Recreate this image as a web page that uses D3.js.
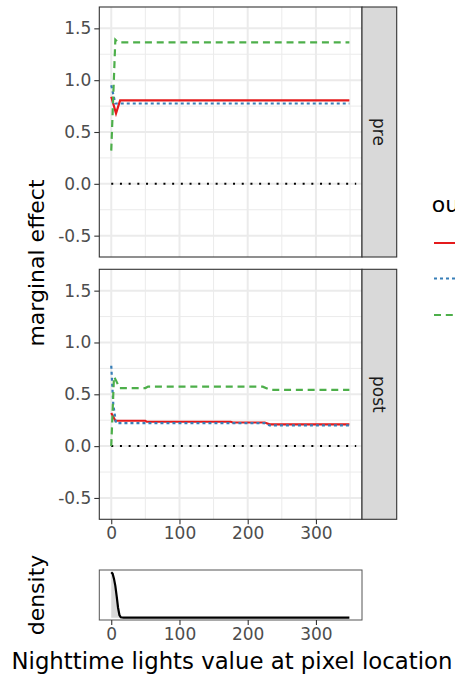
<!DOCTYPE html>
<html>
<head>
<meta charset="utf-8">
<script src="https://cdn.jsdelivr.net/npm/d3@7"></script>
<style>
  html, body { margin: 0; padding: 0; background: #fff; overflow: hidden; }
  svg { display: block; font-family: "DejaVu Sans", sans-serif; }
</style>
</head>
<body>
<svg id="chart" width="455" height="679"></svg>
<script>
// ---------------- data ----------------
const facets = ["pre", "post"];
const seriesNames = ["s1", "s2", "s3"];
const seriesColors = ["#e41a1c", "#377eb8", "#4daf4a"];
const seriesDash = [null, "3 3", "7 4.8"];

const xTicks = [0, 100, 200, 300];
const yTicks = [-0.5, 0, 0.5, 1.0, 1.5];
const yTickLabels = ["-0.5", "0.0", "0.5", "1.0", "1.5"];

// pre panel
const preRedX   = [0, 7, 13, 349];
const preRedY   = [0.84, 0.68, 0.805, 0.805];
const preBlueX  = [0, 6, 349];
const preBlueY  = [0.95, 0.775, 0.775];
const preGreenX = [0, 6, 10, 349];
const preGreenY = [0.32, 1.39, 1.365, 1.365];

// post panel
const postRedX   = [0, 6, 50, 52, 175, 178, 225, 232, 349];
const postRedY   = [0.32, 0.245, 0.245, 0.235, 0.235, 0.228, 0.228, 0.21, 0.21];
const postBlueX  = [0, 3, 7, 225, 232, 349];
const postBlueY  = [0.775, 0.4, 0.222, 0.222, 0.2, 0.2];
const postGreenX = [0, 4, 8, 12, 50, 54, 222, 233, 349];
const postGreenY = [0, 0.67, 0.62, 0.56, 0.56, 0.574, 0.574, 0.543, 0.543];

// density of nighttime lights
const densX = [0, 2, 4, 6, 8, 10, 12, 14, 18, 25, 50, 100, 200, 300, 349];
const densY = [1.0, 0.97, 0.86, 0.70, 0.47, 0.22, 0.06, 0.01, 0.002, 0.001, 0.0005, 0.0003, 0.0002, 0.0001, 0.0001];

// ---------------- layout ----------------
const svg = d3.select("#chart");
const left = 99.3, right = 362, stripW = 34.7;
const panels = [
  { name: "pre",  top: 7,     bottom: 257,
    series: [[preRedX, preRedY], [preBlueX, preBlueY], [preGreenX, preGreenY]] },
  { name: "post", top: 269.3, bottom: 519.3,
    series: [[postRedX, postRedY], [postBlueX, postBlueY], [postGreenX, postGreenY]] }
];
const densTop = 570, densBottom = 620;

const x = d3.scaleLinear().domain([-17.5, 367.5]).range([left, right]);
const minorX = [50, 150, 250, 350];
const minorY = [-0.25, 0.25, 0.75, 1.25];

const tickFont = 17, titleFont = 22, stripFont = 17;
const tickColor = "#4d4d4d";

panels.forEach((p, pi) => {
  const y = d3.scaleLinear().domain([-0.706, 1.706]).range([p.bottom, p.top]);
  const g = svg.append("g");
  g.append("rect").attr("x", left).attr("y", p.top).attr("width", right - left)
    .attr("height", p.bottom - p.top).attr("fill", "#fff");
  // minor grid
  g.selectAll(".mx").data(minorX).enter().append("line")
    .attr("x1", d => x(d)).attr("x2", d => x(d)).attr("y1", p.top).attr("y2", p.bottom)
    .attr("stroke", "#ebebeb").attr("stroke-width", 1);
  g.selectAll(".my").data(minorY).enter().append("line")
    .attr("x1", left).attr("x2", right).attr("y1", d => y(d)).attr("y2", d => y(d))
    .attr("stroke", "#ebebeb").attr("stroke-width", 1);
  // major grid
  g.selectAll(".gx").data(xTicks).enter().append("line")
    .attr("x1", d => x(d)).attr("x2", d => x(d)).attr("y1", p.top).attr("y2", p.bottom)
    .attr("stroke", "#ebebeb").attr("stroke-width", 2);
  g.selectAll(".gy").data(yTicks).enter().append("line")
    .attr("x1", left).attr("x2", right).attr("y1", d => y(d)).attr("y2", d => y(d))
    .attr("stroke", "#ebebeb").attr("stroke-width", 2);

  // zero line (dotted)
  g.append("line").attr("x1", x(0)).attr("x2", x(359)).attr("y1", y(0)).attr("y2", y(0))
    .attr("stroke", "#000").attr("stroke-width", 2).attr("stroke-dasharray", "2 6.7");

  // series
  const line = d3.line().x(d => x(d[0])).y(d => y(d[1]));
  p.series.forEach((s, si) => {
    const pts = s[0].map((xv, i) => [xv, s[1][i]]);
    const path = g.append("path").attr("d", line(pts)).attr("fill", "none")
      .attr("stroke", seriesColors[si]).attr("stroke-width", 2.2);
    if (seriesDash[si]) path.attr("stroke-dasharray", seriesDash[si]);
  });

  // border
  g.append("rect").attr("x", left).attr("y", p.top).attr("width", right - left)
    .attr("height", p.bottom - p.top).attr("fill", "none").attr("stroke", "#333").attr("stroke-width", 1.1);

  // strip
  g.append("rect").attr("x", right).attr("y", p.top).attr("width", stripW)
    .attr("height", p.bottom - p.top).attr("fill", "#d9d9d9").attr("stroke", "#333").attr("stroke-width", 1.1);
  const cy = (p.top + p.bottom) / 2, cx = right + stripW / 2;
  g.append("text").attr("transform", `translate(${cx},${cy}) rotate(90)`)
    .attr("text-anchor", "middle").attr("dy", "0.35em")
    .attr("font-size", stripFont).attr("fill", "#1a1a1a").text(facets[pi]);

  // y axis
  const yAxis = d3.axisLeft(y).tickValues(yTicks).tickSize(5).tickPadding(3)
    .tickFormat((d, i) => yTickLabels[i]);
  const ya = svg.append("g").attr("transform", `translate(${left},0)`).call(yAxis);
  ya.select(".domain").remove();
  ya.selectAll(".tick line").attr("stroke", "#333").attr("stroke-width", 1.1);
  ya.selectAll(".tick text").attr("font-size", tickFont).attr("fill", tickColor)
    .attr("font-family", "DejaVu Sans");

  if (pi === 1) {
    const xAxis = d3.axisBottom(x).tickValues(xTicks).tickSize(5).tickPadding(3);
    const xa = svg.append("g").attr("transform", `translate(0,${p.bottom})`).call(xAxis);
    xa.select(".domain").remove();
    xa.selectAll(".tick line").attr("stroke", "#333").attr("stroke-width", 1.1);
    xa.selectAll(".tick text").attr("font-size", tickFont).attr("fill", tickColor)
      .attr("font-family", "DejaVu Sans");
  }
});

// y title
svg.append("text").attr("transform", `translate(44,263) rotate(-90)`)
  .attr("text-anchor", "middle").attr("font-size", titleFont).attr("fill", "#000")
  .text("marginal effect");

// ---------------- density panel ----------------
const yd = d3.scaleLinear().domain([-0.05, 1.05]).range([densBottom, densTop]);
const dpts = densX.map((xv, i) => [xv, densY[i]]);
const dg = svg.append("g");
dg.append("path")
  .attr("d", d3.area().x(d => x(d[0])).y0(yd(0)).y1(d => yd(d[1]))(dpts))
  .attr("fill", "#d9d9d9").attr("stroke", "none");
dg.append("path")
  .attr("d", d3.line().x(d => x(d[0])).y(d => yd(d[1]))(dpts))
  .attr("fill", "none").attr("stroke", "#000").attr("stroke-width", 2.2);
dg.append("rect").attr("x", left).attr("y", densTop).attr("width", right - left)
  .attr("height", densBottom - densTop).attr("fill", "none").attr("stroke", "#555").attr("stroke-width", 1);
const dxAxis = d3.axisBottom(x).tickValues(xTicks).tickSize(5).tickPadding(3);
const dxa = svg.append("g").attr("transform", `translate(0,${densBottom})`).call(dxAxis);
dxa.select(".domain").remove();
dxa.selectAll(".tick line").attr("stroke", "#333").attr("stroke-width", 1.1);
dxa.selectAll(".tick text").attr("font-size", tickFont).attr("fill", tickColor)
  .attr("font-family", "DejaVu Sans");

svg.append("text").attr("transform", `translate(44,595) rotate(-90)`)
  .attr("text-anchor", "middle").attr("font-size", titleFont).attr("fill", "#000")
  .text("density");

svg.append("text").attr("x", 232).attr("y", 669)
  .attr("text-anchor", "middle").attr("font-size", 22.8).attr("fill", "#000")
  .text("Nighttime lights value at pixel location");

// ---------------- legend (cut by the right edge, as in the reference) ----------------
svg.append("text").attr("x", 431.7).attr("y", 212).attr("font-size", titleFont)
  .attr("fill", "#000").text("outcome");
const legY = [243, 278.5, 315];
seriesNames.forEach((n, i) => {
  const l = svg.append("line").attr("x1", 434).attr("x2", 470)
    .attr("y1", legY[i]).attr("y2", legY[i])
    .attr("stroke", seriesColors[i]).attr("stroke-width", 2.2);
  if (seriesDash[i]) l.attr("stroke-dasharray", seriesDash[i]);
});
</script>
</body>
</html>
